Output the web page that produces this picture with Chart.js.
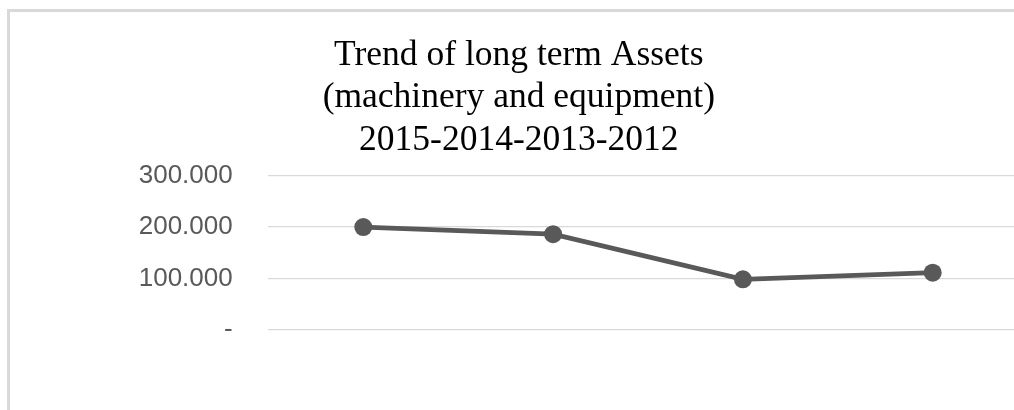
<!DOCTYPE html>
<html>
<head>
<meta charset="utf-8">
<script src="https://cdn.jsdelivr.net/npm/chart.js@4/dist/chart.umd.min.js"></script>
<style>
  html, body { margin: 0; padding: 0; background: #fff; overflow: hidden; }
  #frame {
    position: absolute; left: 7px; top: 9px;
    border-top: 3px solid #d9d9d9; border-left: 3px solid #d9d9d9;
    width: 1040px; height: 420px;
  }
  #chart { display: block; }
</style>
</head>
<body>
<div id="frame"><canvas id="chart" width="1032" height="400"></canvas></div>
<script>
/* ---------------- DATA ---------------- */
const YEARS = ["2015", "2014", "2013", "2012"];          // categories (labels hidden in the original)
const ASSETS = [200000, 186200, 98600, 111500];           // machinery and equipment
const TICK_VALUES = [0, 100000, 200000, 300000];
const TICK_LABELS = ["-", "100.000", "200.000", "300.000"];
const TITLE_LINES = ["Trend of long term Assets", "(machinery and equipment)", "2015-2014-2013-2012"];
/* -------------------------------------- */

const GREY = "#595959";

const ctx = document.getElementById('chart').getContext('2d');
new Chart(ctx, {
    type: 'line',
    data: {
        labels: YEARS,
        datasets: [{
            label: 'Assets',
            data: ASSETS,
            borderColor: GREY,
            backgroundColor: GREY,
            borderWidth: 4.8,
            pointRadius: 9,
            pointBorderWidth: 0,
            pointBackgroundColor: GREY,
            tension: 0
        }]
    },
    options: {
        responsive: false,
        animation: false,
        layout: { padding: { left: 0, right: 14.4, top: 0, bottom: 82 } },
        plugins: {
            legend: { display: false },
            tooltip: { enabled: false },
            title: {
                display: true,
                text: TITLE_LINES,
                color: '#000',
                font: { family: '"Liberation Serif", "Times New Roman", serif', size: 35.5, weight: 'normal', lineHeight: 1.197 },
                padding: { top: 22.25, bottom: 13.95 }
            }
        },
        scales: {
            x: {
                type: 'category',
                offset: true,
                grid: { display: false, drawTicks: false },
                border: { display: false },
                ticks: { display: false },
                afterFit: s => { s.height = 0; }
            },
            y: {
                min: 0,
                max: 300000,
                afterBuildTicks: s => { s.ticks = TICK_VALUES.map(v => ({ value: v })); },
                afterFit: s => { s.width = 258.4; },
                grid: { color: '#d9d9d9', lineWidth: 1.3, drawTicks: false },
                border: { display: false },
                ticks: {
                    padding: 35.7,
                    color: GREY,
                    font: { family: '"Liberation Sans", Arial, sans-serif', size: 26 },
                    callback: (v) => TICK_LABELS[TICK_VALUES.indexOf(v)]
                }
            }
        }
    }
});
</script>
</body>
</html>
